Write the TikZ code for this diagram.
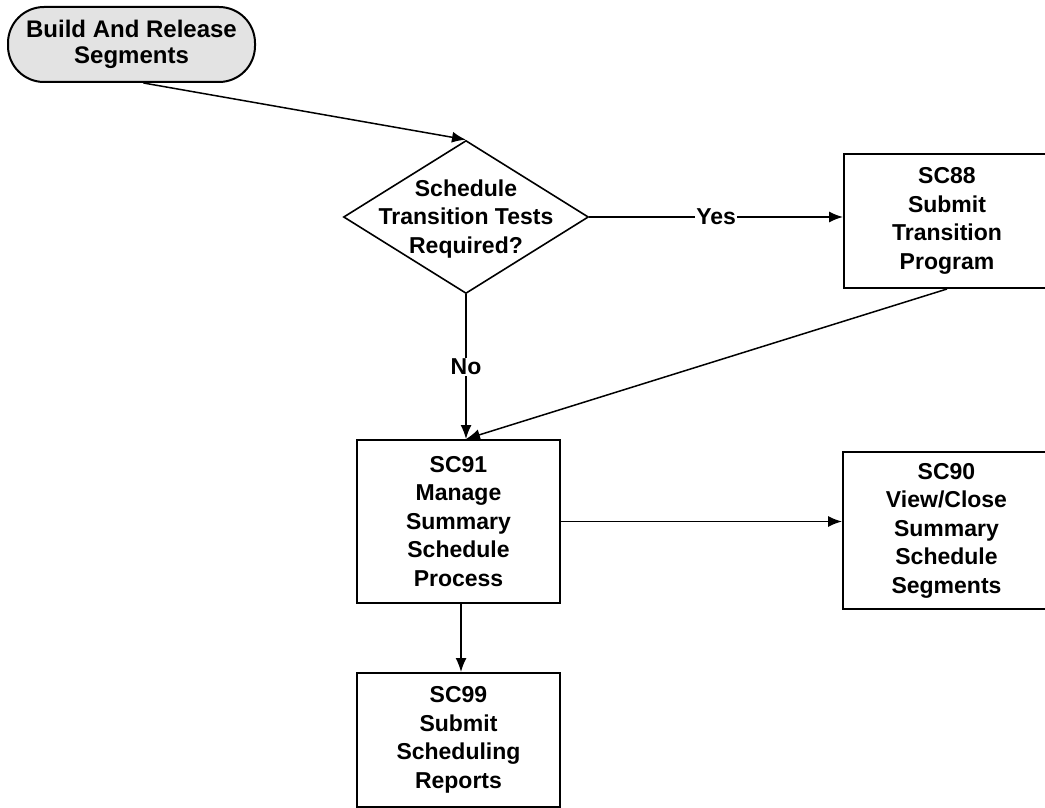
\documentclass[tikz,border=0pt]{standalone}
\usepackage{fontspec}
\setmainfont{Liberation Sans}
\usetikzlibrary{shapes.geometric,arrows.meta}
\tikzset{
  lbl/.style={font=\fontsize{23}{28.5}\selectfont\bfseries, align=center, inner sep=1pt},
  procbox/.style={draw, line width=2pt, fill=white, inner sep=0pt, font=\fontsize{23}{28.5}\selectfont\bfseries, align=center},
  termbox/.style={draw, line width=2pt, fill=gray!22, rounded corners=36pt, inner sep=0pt, font=\fontsize{24}{26}\selectfont\bfseries, align=center},
  decbox/.style={draw, diamond, line width=1.6pt, inner sep=0pt, minimum width=245pt, minimum height=153pt},
  conn/.style={line width=1.5pt, -{Latex[length=14pt,width=11pt]}},
  plain/.style={line width=1.5pt}
}
\begin{document}
\begin{tikzpicture}[x=1pt,y=-1pt]
\useasboundingbox (0,0) rectangle (1045,808);
\fill[white] (0,0) rectangle (1045,808);

\node[termbox, minimum width=247pt, minimum height=75pt] (term) at (131.5,44.5) {Build And Release\\Segments};
\node[decbox] (dia) at (466,217) {};
\node[lbl] (diatxt) at (466,219) {Schedule\\Transition Tests\\Required?};
\node[procbox, minimum width=206pt, minimum height=134pt] (sc88) at (947,221) {SC88\\Submit\\Transition\\Program};
\node[procbox, minimum width=203pt, minimum height=163pt] (sc91) at (458.5,521.5) {SC91\\Manage\\Summary\\Schedule\\Process};
\node[procbox, minimum width=207pt, minimum height=157pt] (sc90) at (946.5,530.5) {SC90\\View/Close\\Summary\\Schedule\\Segments};
\node[procbox, minimum width=203pt, minimum height=134pt] (sc99) at (458.5,740) {SC99\\Submit\\Scheduling\\Reports};

\coordinate (src) at ([xshift=12pt]term.south);
\coordinate (in91) at ([xshift=7.5pt]sc91.north);

\draw[conn] (src) -- (dia.north);
\draw[conn] (dia.east) -- node[lbl, fill=white, midway] (yes) {Yes} (dia.east -| sc88.west);
\draw[conn] (dia.south) -- node[lbl, fill=white, midway] (no) {No} (in91);
\draw[conn] (sc88.south) -- (in91);
\draw[conn] (sc91.east) -- (sc91.east -| sc90.west);
\draw[conn] ([xshift=2.5pt]sc91.south) -- ([xshift=2.5pt]sc99.north);
\end{tikzpicture}
\end{document}
